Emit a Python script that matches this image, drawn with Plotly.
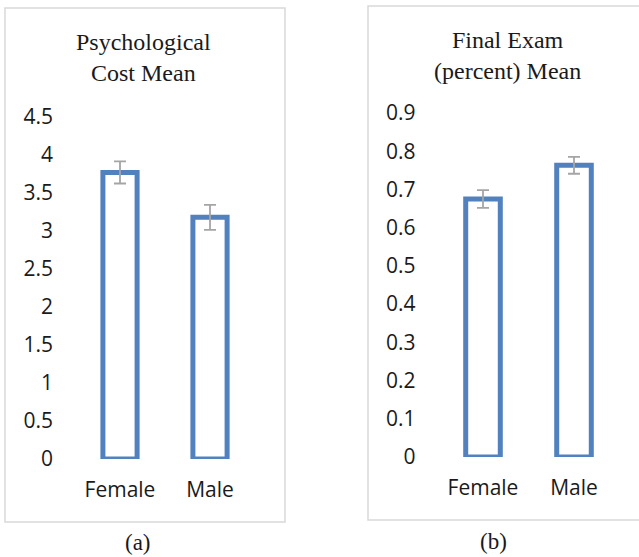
import plotly.graph_objects as go

categories = ["Female", "Male"]
psych_mean = [3.77, 3.18]
psych_err = [0.145, 0.165]
exam_mean = [0.675, 0.763]
exam_err = [0.023, 0.022]
psych_ticks = [0, 0.5, 1, 1.5, 2, 2.5, 3, 3.5, 4, 4.5]
psych_ticktext = ["0", "0.5", "1", "1.5", "2", "2.5", "3", "3.5", "4", "4.5"]
exam_ticks = [0, 0.1, 0.2, 0.3, 0.4, 0.5, 0.6, 0.7, 0.8, 0.9]
exam_ticktext = ["0", "0.1", "0.2", "0.3", "0.4", "0.5", "0.6", "0.7", "0.8", "0.9"]

W, H = 639, 557
BLUE = "#5181BE"
GRAY = "#A5A5A5"
BORDER = "#D9D9D9"
TICKFONT = dict(family="Open Sans", size=21, color="#1a1a1a")
SERIF = "Liberation Serif"

def px_x(x):
    return x / W

def px_y(y):
    return (H - y) / H

fig = go.Figure()

fig.add_trace(go.Bar(
    x=categories, y=psych_mean, width=0.38,
    marker=dict(color="white", line=dict(color=BLUE, width=5)),
    error_y=dict(type="data", array=psych_err, color=GRAY, thickness=1.8, width=6),
    xaxis="x", yaxis="y", showlegend=False,
))
fig.add_trace(go.Bar(
    x=categories, y=exam_mean, width=0.38,
    marker=dict(color="white", line=dict(color=BLUE, width=5)),
    error_y=dict(type="data", array=exam_err, color=GRAY, thickness=1.8, width=6),
    xaxis="x2", yaxis="y2", showlegend=False,
))

common_x = dict(type="category", range=[-0.5, 1.5], showgrid=False, zeroline=False,
                showline=False, ticks="", tickfont=TICKFONT, ticklabelstandoff=16,
                automargin=False)
common_y = dict(showgrid=False, zeroline=False, showline=False, ticks="",
                tickfont=TICKFONT, ticklabelstandoff=21, tickmode="array",
                automargin=False)

fig.update_layout(
    width=W, height=H,
    margin=dict(l=0, r=0, t=0, b=0, pad=0, autoexpand=False),
    paper_bgcolor="white", plot_bgcolor="white",
    xaxis=dict(common_x, domain=[px_x(75), px_x(255)], anchor="y"),
    yaxis=dict(common_y, domain=[px_y(459), px_y(117)], range=[0, 4.5],
               tickvals=psych_ticks, ticktext=psych_ticktext, anchor="x"),
    xaxis2=dict(common_x, domain=[px_x(437.5), px_x(619.5)], anchor="y2"),
    yaxis2=dict(common_y, domain=[px_y(457), px_y(113)], range=[0, 0.9],
                tickvals=exam_ticks, ticktext=exam_ticktext, anchor="x2"),
    shapes=[
        dict(type="rect", xref="paper", yref="paper",
             x0=px_x(5), x1=px_x(285), y0=px_y(522), y1=px_y(8),
             line=dict(color=BORDER, width=1.5), fillcolor="rgba(0,0,0,0)", layer="below"),
        dict(type="rect", xref="paper", yref="paper",
             x0=px_x(368), x1=px_x(645), y0=px_y(520), y1=px_y(6),
             line=dict(color=BORDER, width=1.5), fillcolor="rgba(0,0,0,0)", layer="below"),
    ],
    annotations=[
        dict(text="Psychological<br>Cost Mean", xref="paper", yref="paper",
             x=px_x(143), y=px_y(58), xanchor="center", yanchor="middle",
             showarrow=False, font=dict(family=SERIF, size=24, color="#1a1a1a")),
        dict(text="Final Exam<br>(percent) Mean", xref="paper", yref="paper",
             x=px_x(507), y=px_y(55), xanchor="center", yanchor="middle",
             showarrow=False, font=dict(family=SERIF, size=24, color="#1a1a1a")),
        dict(text="(a)", xref="paper", yref="paper",
             x=px_x(138), y=px_y(542), xanchor="center", yanchor="middle",
             showarrow=False, font=dict(family=SERIF, size=23, color="#1a1a1a")),
        dict(text="(b)", xref="paper", yref="paper",
             x=px_x(493), y=px_y(541), xanchor="center", yanchor="middle",
             showarrow=False, font=dict(family=SERIF, size=23, color="#1a1a1a")),
    ],
)

fig.write_html(
    "out.html",
    config={"displayModeBar": False},
    post_script="document.body.style.margin='0';document.body.style.overflow='hidden';",
)
